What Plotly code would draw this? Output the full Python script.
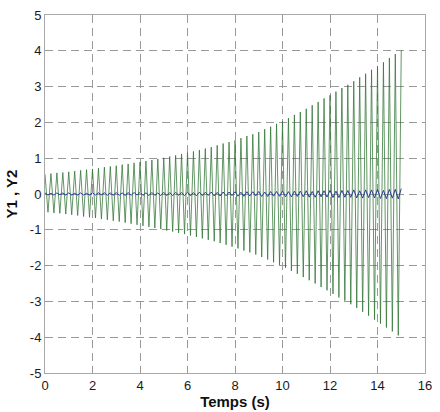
import numpy as np
import plotly.graph_objects as go

# vertex times (half-period 0.125 s), 0 .. 15 s
t = np.arange(121) * 0.125

# Y1 (green) zigzag vertices, one row per second
y1 = [
    0.55, -0.51, 0.57, -0.53, 0.59, -0.54, 0.60, -0.56,
    0.62, -0.58, 0.64, -0.60, 0.66, -0.63, 0.68, -0.65,
    0.70, -0.67, 0.72, -0.70, 0.75, -0.72, 0.77, -0.75,
    0.79, -0.77, 0.82, -0.80, 0.84, -0.83, 0.87, -0.86,
    0.89, -0.89, 0.92, -0.92, 0.95, -0.95, 0.98, -0.98,
    1.01, -1.02, 1.05, -1.05, 1.08, -1.09, 1.12, -1.12,
    1.15, -1.16, 1.19, -1.20, 1.23, -1.24, 1.27, -1.28,
    1.31, -1.32, 1.36, -1.37, 1.41, -1.42, 1.45, -1.47,
    1.50, -1.52, 1.56, -1.58, 1.62, -1.63, 1.67, -1.69,
    1.73, -1.76, 1.81, -1.83, 1.88, -1.91, 1.96, -1.98,
    2.03, -2.06, 2.12, -2.15, 2.21, -2.23, 2.29, -2.32,
    2.38, -2.41, 2.48, -2.50, 2.57, -2.60, 2.67, -2.69,
    2.76, -2.79, 2.86, -2.89, 2.96, -2.98, 3.05, -3.08,
    3.15, -3.18, 3.26, -3.29, 3.36, -3.40, 3.47, -3.51,
    3.57, -3.62, 3.68, -3.73, 3.80, -3.84, 3.91, -3.95,
    4.02,
]

# Y2 (blue) zigzag vertices
y2 = [
    0.03, -0.03, 0.02, -0.03, 0.03, -0.02, 0.03, -0.03,
    0.03, -0.03, 0.02, -0.03, 0.03, -0.03, 0.02, -0.03,
    0.035, -0.03, 0.035, -0.025, 0.035, -0.035, 0.03, -0.035,
    0.04, -0.035, 0.03, -0.04, 0.04, -0.035, 0.04, -0.03,
    0.043, -0.04, 0.035, -0.043, 0.043, -0.04, 0.03, -0.043,
    0.046, -0.045, 0.04, -0.046, 0.046, -0.035, 0.046, -0.046,
    0.05, -0.05, 0.04, -0.05, 0.05, -0.045, 0.05, -0.04,
    0.056, -0.055, 0.045, -0.056, 0.056, -0.05, 0.056, -0.045,
    0.063, -0.06, 0.05, -0.063, 0.063, -0.055, 0.063, -0.05,
    0.07, -0.07, 0.055, -0.07, 0.07, -0.06, 0.07, -0.065,
    0.08, -0.078, 0.065, -0.08, 0.08, -0.07, 0.08, -0.075,
    0.09, -0.088, 0.07, -0.09, 0.09, -0.08, 0.09, -0.085,
    0.10, -0.098, 0.08, -0.10, 0.10, -0.09, 0.10, -0.095,
    0.115, -0.11, 0.09, -0.115, 0.115, -0.10, 0.115, -0.11,
    0.13, -0.125, 0.10, -0.13, 0.13, -0.115, 0.13, -0.14,
    0.15,
]

x_ticks = [0, 2, 4, 6, 8, 10, 12, 14, 16]
y_ticks = [-5, -4, -3, -2, -1, 0, 1, 2, 3, 4, 5]
y_tick_text = ["-5", "-4", "-3", "-2", "-1", "0", "1", "2", "3", "4", "5"]

fig = go.Figure()
fig.add_trace(go.Scatter(x=t, y=y1, mode="lines",
                         line=dict(color="rgba(45,115,50,0.75)", width=1),
                         showlegend=False))
fig.add_trace(go.Scatter(x=t, y=y2, mode="lines",
                         line=dict(color="#2b3d94", width=1),
                         showlegend=False))

axis_common = dict(
    showgrid=True, gridcolor="#999999", griddash="8px,5px", gridwidth=1,
    showline=True, linecolor="#a8a8a8", linewidth=1, mirror=True,
    zeroline=False, ticks="",
    tickfont=dict(family="Liberation Sans, Arial", size=13, color="#1a1a1a"),
)

fig.update_layout(
    width=440, height=412,
    margin=dict(l=45, r=8, t=10, b=38),
    paper_bgcolor="white", plot_bgcolor="white",
    xaxis=dict(range=[0, 16], tickvals=x_ticks,
               title=dict(text="<b>Temps (s)</b>", standoff=1,
                          font=dict(family="Liberation Sans, Arial", size=15, color="#111111")),
               **axis_common),
    yaxis=dict(range=[-5, 5], tickvals=y_ticks, ticktext=y_tick_text,
               title=dict(text="<b>Y1 , Y2</b>", standoff=8,
                          font=dict(family="Liberation Sans, Arial", size=15, color="#111111")),
               **axis_common),
)

fig.write_html("out.html")
